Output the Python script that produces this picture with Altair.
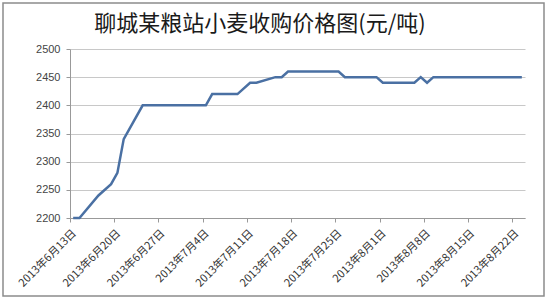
import altair as alt
import pandas as pd

# Data (breakpoints of the price line)
dates = ["2013-06-13", "2013-06-14", "2013-06-17", "2013-06-19", "2013-06-20",
         "2013-06-21", "2013-06-24", "2013-07-04", "2013-07-05", "2013-07-09",
         "2013-07-11", "2013-07-12", "2013-07-15", "2013-07-16", "2013-07-17",
         "2013-07-25", "2013-07-26", "2013-07-31", "2013-08-01", "2013-08-06",
         "2013-08-07", "2013-08-08", "2013-08-09", "2013-08-23"]
prices = [2200, 2200, 2240, 2260, 2280,
          2340, 2400, 2400, 2420, 2420,
          2440, 2440, 2450, 2450, 2460,
          2460, 2450, 2450, 2440, 2440,
          2450, 2440, 2450, 2450]
tick_dates = ["2013-06-13", "2013-06-20", "2013-06-27", "2013-07-04", "2013-07-11",
              "2013-07-18", "2013-07-25", "2013-08-01", "2013-08-08", "2013-08-15",
              "2013-08-22"]
y_ticks = [2200, 2250, 2300, 2350, 2400, 2450, 2500]
title_text = "聊城某粮站小麦收购价格图(元/吨)"

df = pd.DataFrame({
    "date": [d + "T12:00:00" for d in dates],
    "price": prices,
})


def dt(s):
    y, m, d = s.split("-")
    return alt.DateTime(year=int(y), month=int(m), date=int(d))


x_axis = alt.Axis(
    values=[dt(s) for s in tick_dates],
    format="%Y年%-m月%-d日",
    formatType="time",
    labelAngle=-45,
    labelAlign="right",
    labelBaseline="top",
    labelFont="Noto Sans CJK SC",
    labelFontSize=11,
    labelColor="#333333",
    labelPadding=5,
    labelOverlap=False,
    labelFlush=False,
    tickSize=4,
    tickColor="#999999",
    domainColor="#999999",
    grid=False,
    title=None,
)

y_axis = alt.Axis(
    values=y_ticks,
    format="d",
    labelFont="Liberation Sans",
    labelFontSize=11,
    labelColor="#444444",
    labelPadding=6,
    tickSize=4,
    tickColor="#999999",
    domainColor="#999999",
    grid=True,
    gridColor="#c8c8c8",
    gridWidth=1,
    title=None,
)

line = alt.Chart(df).mark_line(color="#4A70A3", strokeWidth=2.5).encode(
    x=alt.X("date:T",
            scale=alt.Scale(domain=[dt("2013-06-13"), dt("2013-08-24")]),
            axis=x_axis),
    y=alt.Y("price:Q",
            scale=alt.Scale(domain=[2200, 2500], nice=False, zero=False),
            axis=y_axis),
)

one = pd.DataFrame({"t": [title_text]})

frame = alt.Chart(one).mark_rect(
    fill=None, stroke="#8c8c8c", strokeWidth=1.5
).encode(
    x=alt.value(-67), x2=alt.value(474), y=alt.value(-46), y2=alt.value(247)
)

title = alt.Chart(one).mark_text(
    font="Noto Sans CJK SC", fontSize=22, color="#1a1a1a",
    align="center", baseline="middle"
).encode(
    text="t:N", x=alt.value(190), y=alt.value(-25)
)

chart = alt.layer(frame, line, title).properties(
    width=455,
    height=169,
    padding={"left": 70, "top": 49, "right": 25, "bottom": 82},
    autosize=alt.AutoSizeParams(type="none"),
    background="white",
).configure_view(stroke=None)

chart.save("out.html", embed_options={"renderer": "svg", "actions": False})
